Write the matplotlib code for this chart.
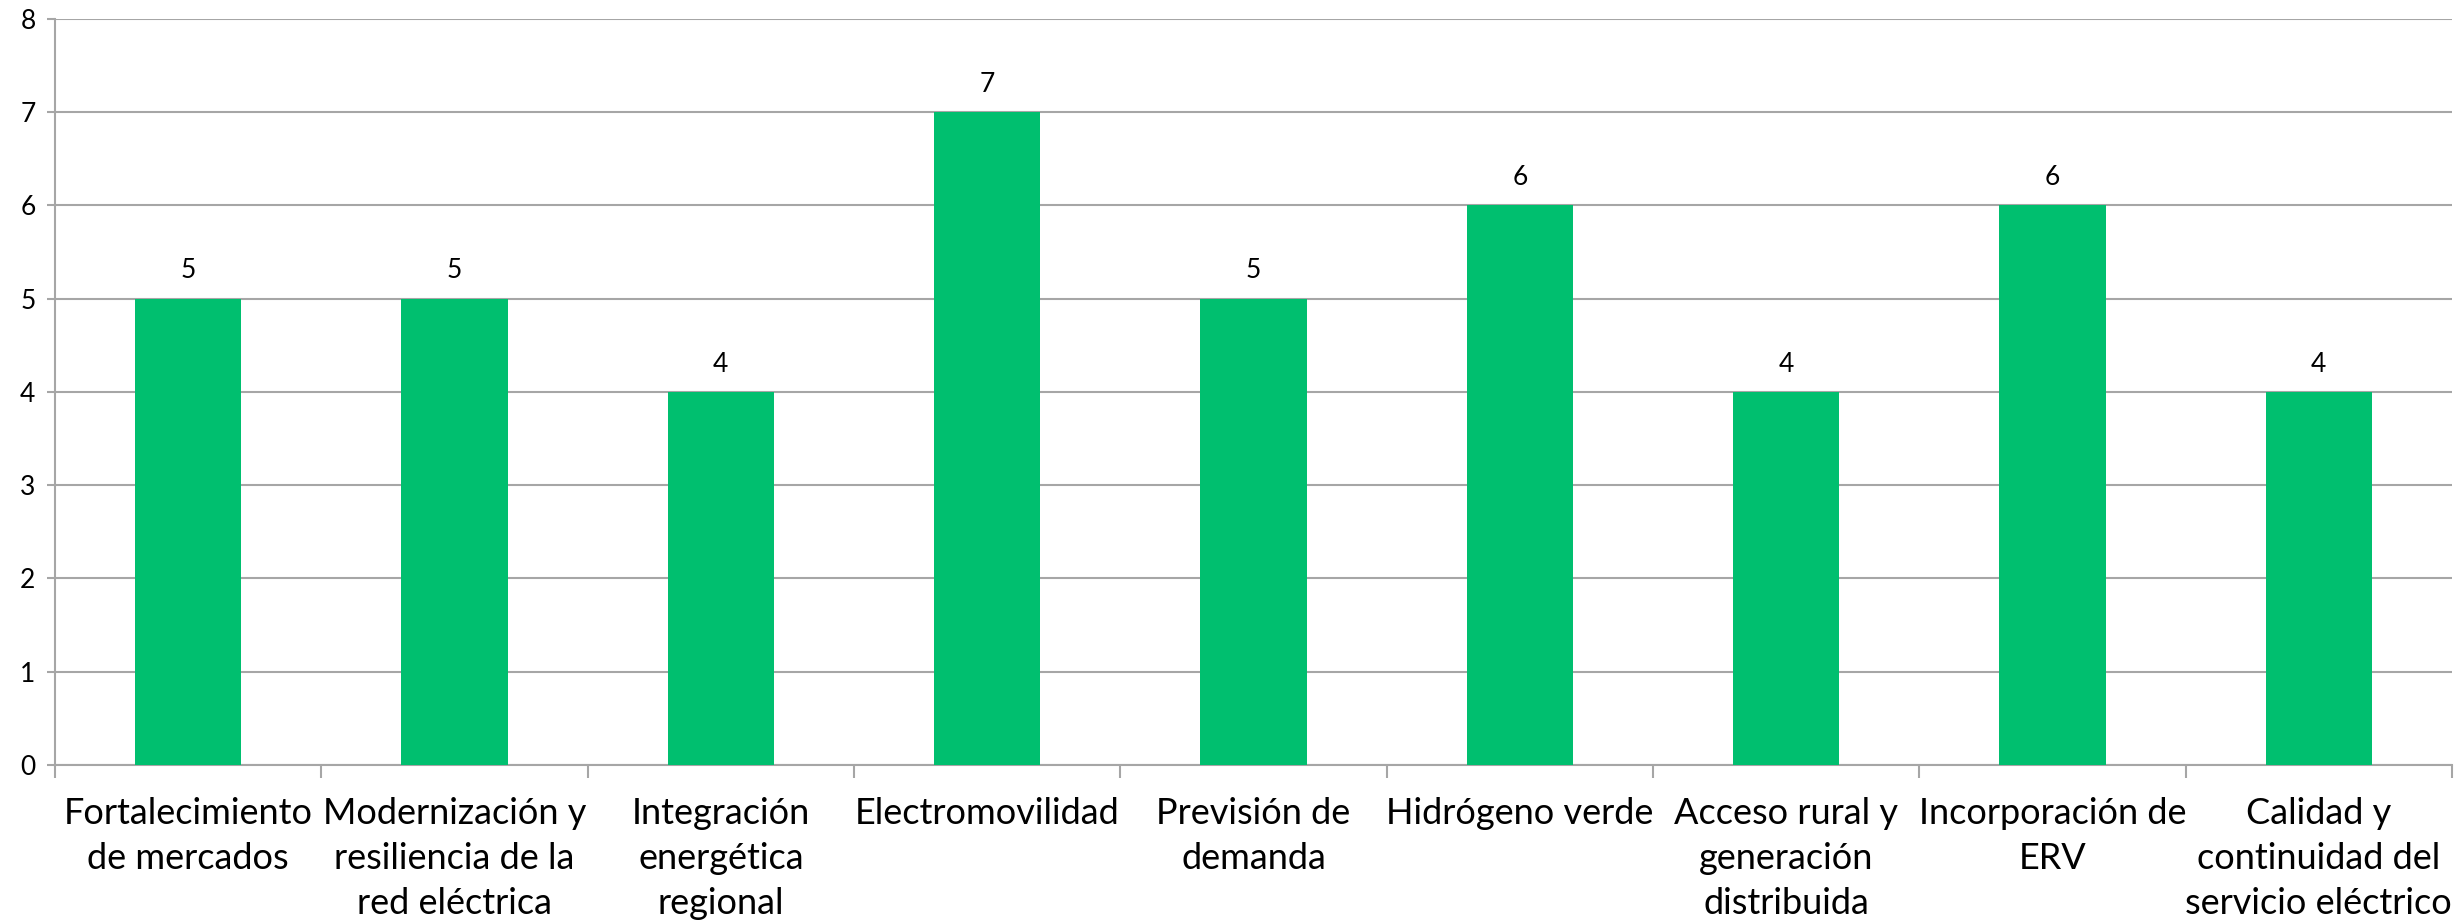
import matplotlib.pyplot as plt
from matplotlib.ticker import FixedLocator, MultipleLocator

categories = [
    "Fortalecimiento\nde mercados",
    "Modernización y\nresiliencia de la\nred eléctrica",
    "Integración\nenergética\nregional",
    "Electromovilidad",
    "Previsión de\ndemanda",
    "Hidrógeno verde",
    "Acceso rural y\ngeneración\ndistribuida",
    "Incorporación de\nERV",
    "Calidad y\ncontinuidad del\nservicio eléctrico",
]
values = [5, 5, 4, 7, 5, 6, 4, 6, 4]

BAR_COLOR = "#00BF6F"
GRID_COLOR = "#A6A6A6"

plt.rcParams["font.family"] = ["Lato", "DejaVu Sans"]

fig = plt.figure(figsize=(24.63, 9.22), dpi=100)
ax = fig.add_axes([0.02233, 0.1703, 0.9732, 0.8091])

x = list(range(len(categories)))
bars = ax.bar(x, values, width=0.4, color=BAR_COLOR, zorder=3)

for bar, v in zip(bars, values):
    ax.annotate(
        str(v),
        (bar.get_x() + bar.get_width() / 2, v),
        xytext=(0, 20),
        textcoords="offset points",
        ha="center",
        va="center",
        fontsize=19,
    )

ax.set_xlim(-0.5, len(categories) - 0.5)
ax.set_ylim(0, 8)
ax.yaxis.set_major_locator(MultipleLocator(1))
ax.grid(axis="y", color=GRID_COLOR, linewidth=1.5, zorder=0)

ax.set_xticks(x)
ax.set_xticklabels(categories, fontsize=26, linespacing=1.45, va="top")
ax.xaxis.set_minor_locator(FixedLocator([i - 0.5 for i in range(len(categories) + 1)]))
ax.tick_params(axis="x", which="major", length=0, pad=23)
ax.tick_params(axis="x", which="minor", length=9, width=1.5, color=GRID_COLOR)
ax.tick_params(axis="y", length=6, width=1.5, color=GRID_COLOR, labelsize=19, pad=8)

for side in ("top", "right"):
    ax.spines[side].set_visible(False)
for side in ("left", "bottom"):
    ax.spines[side].set_color(GRID_COLOR)
    ax.spines[side].set_linewidth(1.5)

fig.savefig("out.png", dpi=100, facecolor="white")
